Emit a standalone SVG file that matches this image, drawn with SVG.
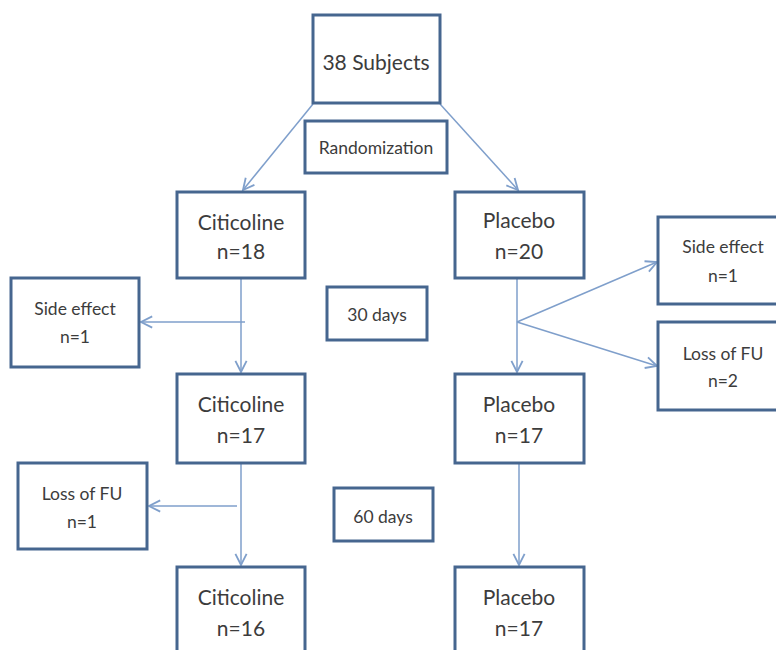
<svg xmlns="http://www.w3.org/2000/svg" width="776" height="650" viewBox="0 0 776 650">
<defs>
<style>
.box{fill:#ffffff;stroke:#46668f;stroke-width:3}
.t{font-family:Lato,"Open Sans","Liberation Sans",sans-serif;fill:#3c3c3c;text-anchor:middle}
.big{font-size:21px}
.sm{font-size:17.5px}
.con line{stroke:#7f9fcb;stroke-width:1.5;fill:none}
</style>
<marker id="arr" markerUnits="userSpaceOnUse" markerWidth="14" markerHeight="14" refX="9" refY="5" orient="auto" viewBox="0 0 10 10">
<path d="M1,1 L9,5 L1,9" fill="none" stroke="#7f9fcb" stroke-width="1.3"/>
</marker>
</defs>
<rect width="776" height="650" fill="#ffffff"/>
<g id="connectors" class="con">
<line x1="313" y1="104" x2="243" y2="190" marker-end="url(#arr)"/>
<line x1="440" y1="104" x2="518" y2="190" marker-end="url(#arr)"/>
<line x1="241" y1="278" x2="241" y2="372" marker-end="url(#arr)"/>
<line x1="245" y1="322" x2="141" y2="322" marker-end="url(#arr)"/>
<line x1="517" y1="278" x2="517" y2="372" marker-end="url(#arr)"/>
<line x1="517" y1="322" x2="657" y2="262" marker-end="url(#arr)"/>
<line x1="517" y1="322" x2="657" y2="366" marker-end="url(#arr)"/>
<line x1="241" y1="463" x2="241" y2="565" marker-end="url(#arr)"/>
<line x1="237" y1="506" x2="149" y2="506" marker-end="url(#arr)"/>
<line x1="519" y1="463" x2="519" y2="565" marker-end="url(#arr)"/>
</g>
<g id="subjects"><rect class="box" x="313" y="15" width="127" height="88"/><text class="t big" x="376" y="70">38 Subjects</text></g>
<g id="randomization"><rect class="box" x="305" y="121" width="142" height="52"/><text class="t sm" x="376" y="154">Randomization</text></g>
<g id="citicoline18"><rect class="box" x="177" y="192" width="128" height="86"/><text class="t big" x="241" y="230">Citicoline</text><text class="t big" x="241" y="259">n=18</text></g>
<g id="placebo20"><rect class="box" x="455" y="192" width="129" height="86"/><text class="t big" x="519" y="228">Placebo</text><text class="t big" x="519" y="259">n=20</text></g>
<g id="sideeffect-left"><rect class="box" x="11" y="278" width="128" height="89"/><text class="t sm" x="75" y="315">Side effect</text><text class="t sm" x="75" y="343">n=1</text></g>
<g id="days30"><rect class="box" x="327" y="287" width="100" height="53"/><text class="t sm" x="377" y="321">30 days</text></g>
<g id="sideeffect-right"><rect class="box" x="658" y="217" width="122" height="87"/><text class="t sm" x="723" y="253">Side effect</text><text class="t sm" x="723" y="282">n=1</text></g>
<g id="lossfu-right"><rect class="box" x="658" y="322" width="122" height="88"/><text class="t sm" x="723" y="360">Loss of FU</text><text class="t sm" x="723" y="387">n=2</text></g>
<g id="citicoline17"><rect class="box" x="177" y="374" width="128" height="89"/><text class="t big" x="241" y="412">Citicoline</text><text class="t big" x="241" y="443">n=17</text></g>
<g id="placebo17a"><rect class="box" x="455" y="374" width="129" height="89"/><text class="t big" x="519" y="412">Placebo</text><text class="t big" x="519" y="443">n=17</text></g>
<g id="lossfu-left"><rect class="box" x="18" y="463" width="129" height="86"/><text class="t sm" x="82" y="500">Loss of FU</text><text class="t sm" x="82" y="528">n=1</text></g>
<g id="days60"><rect class="box" x="334" y="488" width="99" height="53"/><text class="t sm" x="383" y="523">60 days</text></g>
<g id="citicoline16"><rect class="box" x="177" y="567" width="128" height="100"/><text class="t big" x="241" y="605">Citicoline</text><text class="t big" x="241" y="636">n=16</text></g>
<g id="placebo17b"><rect class="box" x="455" y="567" width="129" height="100"/><text class="t big" x="519" y="605">Placebo</text><text class="t big" x="519" y="636">n=17</text></g>
</svg>
